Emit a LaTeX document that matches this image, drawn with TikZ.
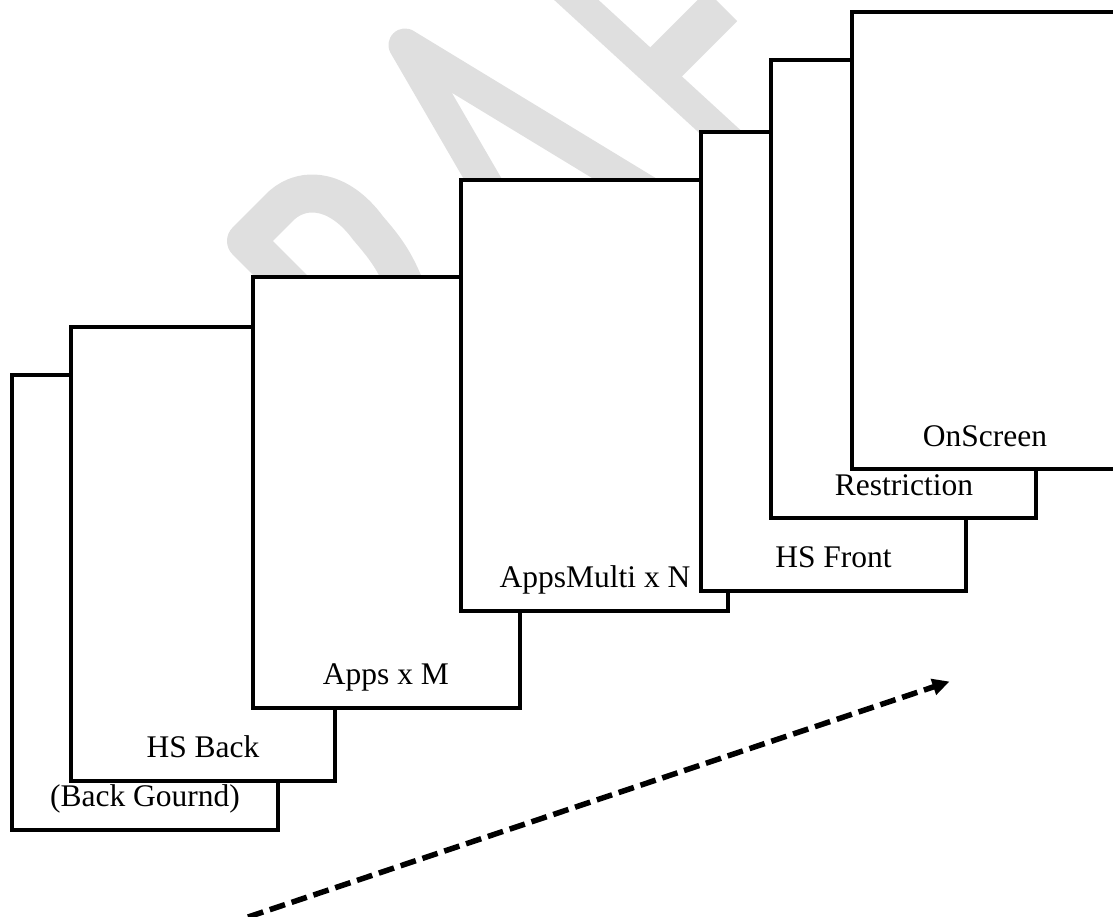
\documentclass[tikz,border=0pt]{standalone}
\usepackage{fontspec}
\setmainfont{Liberation Serif}
\usetikzlibrary{arrows.meta}
\definecolor{wmgray}{RGB}{223,223,223}
\begin{document}
\begin{tikzpicture}[x=1pt,y=-1pt,
  panel/.style={draw=black, fill=white, line width=4.5pt, rectangle, inner sep=0pt, line join=miter},
  lbl/.style={anchor=base, inner sep=0pt, font=\fontsize{31.5}{36}\selectfont},
  wm/.style={draw=wmgray, line join=round, line cap=butt},
  flow/.style={line width=5.5pt, dash pattern=on 16pt off 7pt, -{Triangle[length=17pt,width=16pt]}}
]
\useasboundingbox (0,0) rectangle (1113,916);
% watermark (behind the panels)
\draw[wm, line width=38pt] (296,291) -- (246,241) -- (282,205) .. controls (305,185) and (340,190) .. (368,228) .. controls (385,248) and (397,262) .. (410,300);
\draw[wm, line width=33pt] (495,200) -- (405,45) -- (660,200);
\draw[wm, line width=30pt] (560,-15) -- (740,150);
\draw[wm, line width=43pt] (650,78) -- (722,6);
% panels, back to front
\node[panel, minimum width=266pt, minimum height=455pt] (r1) at (145,602.5) {};
\node[panel, minimum width=264pt, minimum height=454pt] (r2) at (203,554) {};
\node[panel, minimum width=267pt, minimum height=431pt] (r3) at (386.5,492.5) {};
\node[panel, minimum width=267pt, minimum height=431pt] (r4) at (594.5,395.5) {};
\node[panel, minimum width=265pt, minimum height=459pt] (r5) at (833.5,361.5) {};
\node[panel, minimum width=265pt, minimum height=458pt] (r6) at (903.5,289) {};
\node[panel, minimum width=265pt, minimum height=457pt] (r7) at (984.5,240.5) {};
% labels
\node[lbl] (t1) at (145,806) {(Back Gournd)};
\node[lbl] (t2) at (203,757) {HS Back};
\node[lbl] (t3) at (386,684) {Apps x M};
\node[lbl] (t4) at (595,587.5) {AppsMulti x N};
\node[lbl] (t5) at (833.5,567) {HS Front};
\node[lbl] (t6) at (904,495) {Restriction};
\node[lbl] (t7) at (985,446) {OnScreen};
% direction arrow
\coordinate (as) at (248,917);
\coordinate (ae) at (949.5,681.5);
\draw[flow] (as) -- (ae);
\end{tikzpicture}
\end{document}
